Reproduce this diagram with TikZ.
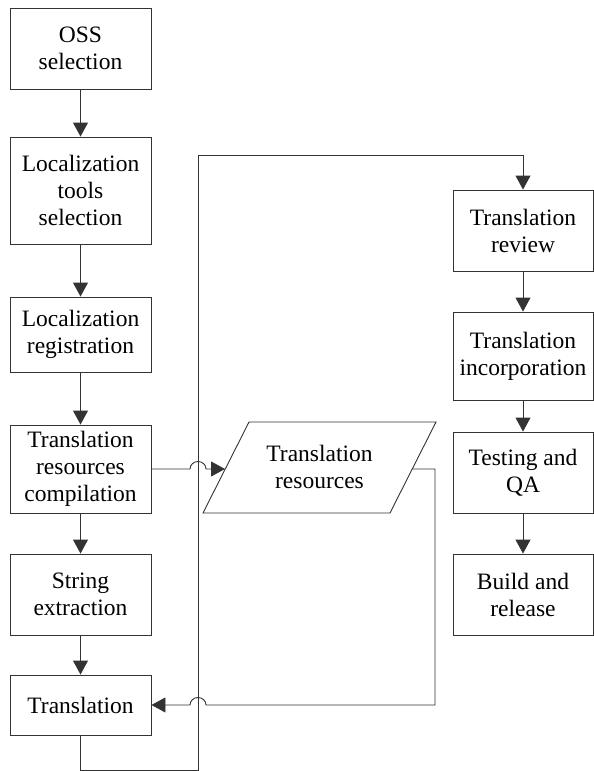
\documentclass[tikz,border=0pt]{standalone}
\usepackage{fontspec}
\setmainfont{Liberation Serif}
\usetikzlibrary{arrows.meta}
\begin{document}
\begin{tikzpicture}[x=1pt,y=-1pt,
  box/.style={draw=black!80,line width=0.9pt,fill=white,align=center,inner sep=0pt,
    minimum width=141pt,font=\fontsize{23.5}{27}\selectfont},
  conn/.style={draw=black!80,line width=0.9pt},
  arr/.style={conn,-{Triangle[width=15pt,length=14pt]}}]
\useasboundingbox (0,0) rectangle (594,771);
% left column
\node[box,minimum height=81pt] (oss) at (80.5,48.5) {OSS\\selection};
\node[box,minimum height=107pt] (tools) at (80.5,190.5) {Localization\\tools\\selection};
\node[box,minimum height=75pt] (reg) at (80.5,334.5) {Localization\\registration};
\node[box,minimum height=88pt] (comp) at (80.5,469) {Translation\\resources\\compilation};
\node[box,minimum height=81pt] (str) at (80.5,594.5) {String\\extraction};
\node[box,minimum height=60pt] (trans) at (80.5,705) {Translation};
% right column
\node[box,minimum width=140pt,minimum height=81pt] (review) at (523,230.5) {Translation\\review};
\node[box,minimum width=140pt,minimum height=88pt] (incorp) at (523,356) {Translation\\incorporation};
\node[box,minimum width=140pt,minimum height=81pt] (test) at (523,472.5) {Testing and\\QA};
\node[box,minimum width=140pt,minimum height=81pt] (build) at (523,594.5) {Build and\\release};
% parallelogram
\coordinate (p1) at (249,422);
\coordinate (p2) at (436,422);
\coordinate (p3) at (390,513);
\coordinate (p4) at (203,513);
\draw[conn] (p1) -- (p2) -- (p3) -- (p4) -- cycle;
\node[align=center,inner sep=0pt,font=\fontsize{23.5}{27}\selectfont] (res) at (319.5,467) {Translation\\resources};
\coordinate (resL) at (225,469);
\coordinate (resR) at (413,469);
% vertical flow
\draw[arr] (oss) -- (tools);
\draw[arr] (tools) -- (reg);
\draw[arr] (reg) -- (comp);
\draw[arr] (comp) -- (str);
\draw[arr] (str) -- (trans);
\draw[arr] (review) -- (incorp);
\draw[arr] (incorp) -- (test);
\draw[arr] (test) -- (build);
% compilation -> resources with jump
\draw[arr] (comp.east) -- (190,469) arc[start angle=180,end angle=0,x radius=8pt,y radius=7.5pt] -- (resL);
% resources -> translation with jump
\draw[arr] (resR) -- (435,469) -- (435,705) -- (206,705) arc[start angle=0,end angle=180,x radius=8pt,y radius=7.5pt] -- (trans.east);
% translation -> review
\draw[arr] (trans.south) -- (80.5,770) -- (198,770) -- (198,155) -- (523,155) -- (review.north);
\end{tikzpicture}
\end{document}
